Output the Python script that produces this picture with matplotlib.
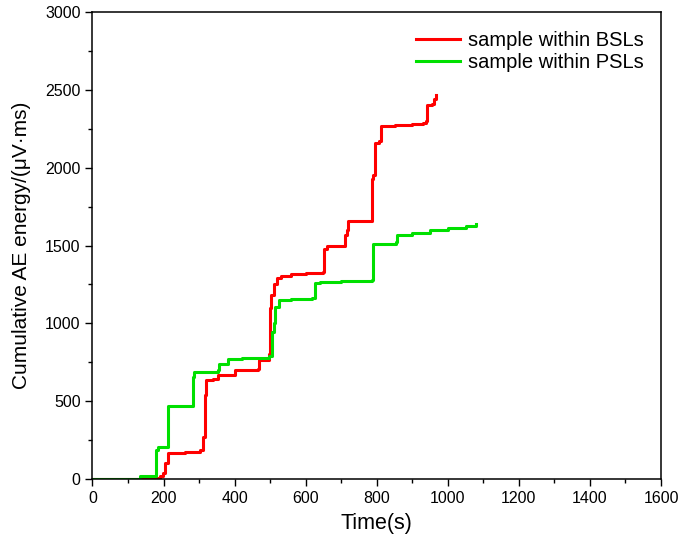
import matplotlib.pyplot as plt
from matplotlib.ticker import MultipleLocator

plt.rcParams['font.family'] = ['Liberation Sans', 'DejaVu Sans']

# sample within BSLs (step curve)
bsl_time = [0, 150, 190, 199, 205, 213, 260, 302, 310, 316, 320, 340, 353, 400,
            465, 470, 498, 500, 503, 510, 520, 530, 560, 600, 648, 652, 660, 705,
            710, 716, 720, 783, 786, 790, 796, 805, 811, 850, 900, 930, 938, 942,
            955, 962, 968]
bsl_energy = [0, 5, 20, 38, 100, 166, 175, 186, 271, 538, 635, 640, 667, 699,
              709, 767, 805, 1100, 1180, 1250, 1290, 1305, 1318, 1322, 1330, 1480, 1495, 1500,
              1570, 1600, 1655, 1660, 1930, 1950, 2160, 2170, 2270, 2275, 2282, 2290, 2300, 2400,
              2410, 2440, 2470]

# sample within PSLs
psl_time = [0, 133, 180, 185, 213, 283, 285, 290, 353, 356, 380, 420, 498, 505,
            510, 515, 525, 560, 619, 625, 640, 700, 788, 790, 854, 856, 900, 950,
            1000, 1050, 1078]
psl_energy = [0, 21, 186, 207, 468, 656, 688, 690, 700, 741, 773, 780, 788, 944,
              1000, 1104, 1147, 1155, 1160, 1256, 1267, 1270, 1280, 1511, 1521, 1568, 1580, 1600,
              1615, 1628, 1640]

fig = plt.figure(figsize=(6.85, 5.48), dpi=100)
ax = fig.add_axes([0.135, 0.126, 0.83, 0.852])

ax.plot(bsl_time, bsl_energy, drawstyle='steps-post', color='#ff0000', lw=2.2,
        label='sample within BSLs')
ax.plot(psl_time, psl_energy, drawstyle='steps-post', color='#00e000', lw=2.2,
        label='sample within PSLs')

ax.set_xlim(0, 1600)
ax.set_ylim(0, 3000)
ax.xaxis.set_major_locator(MultipleLocator(200))
ax.xaxis.set_minor_locator(MultipleLocator(100))
ax.yaxis.set_major_locator(MultipleLocator(500))
ax.yaxis.set_minor_locator(MultipleLocator(250))
ax.tick_params(which='major', direction='out', length=5, width=1, labelsize=11.5,
               top=False, right=False)
ax.tick_params(which='minor', direction='out', length=3, width=1, top=False, right=False)
for s in ax.spines.values():
    s.set_linewidth(1.1)

ax.set_xlabel('Time(s)', fontsize=15.5, labelpad=5)
ax.set_ylabel('Cumulative AE energy/(μV·ms)', fontsize=15, labelpad=10)

ax.legend(loc='upper right', frameon=False, fontsize=14.5, handlelength=2.2,
          handletextpad=0.4, borderaxespad=0.3, labelspacing=0.15,
          bbox_to_anchor=(0.995, 0.99))

fig.savefig('out.png', dpi=100)
